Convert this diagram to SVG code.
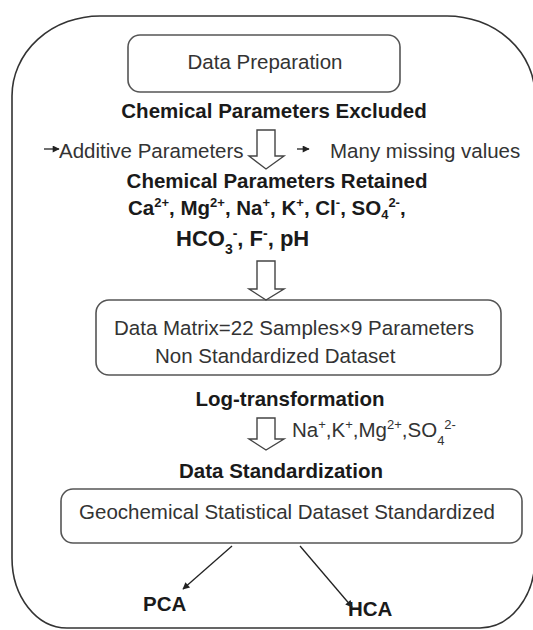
<svg xmlns="http://www.w3.org/2000/svg" width="533" height="630" viewBox="0 0 533 630">
<defs>
<marker id="ah" viewBox="0 0 10 10" refX="9" refY="5" markerWidth="9" markerHeight="7" markerUnits="userSpaceOnUse" orient="auto">
<path d="M0,0 L10,5 L0,10 z" fill="#222"/>
</marker>
<style>
.t{font-family:"Liberation Sans",Arial,sans-serif;font-size:20.5px;fill:#333}
.b{font-family:"Liberation Sans",Arial,sans-serif;font-size:20.5px;font-weight:bold;fill:#1a1a1a}
.box{fill:#fff;stroke:#555;stroke-width:1.6}
.hol{fill:#fff;stroke:#444;stroke-width:1.4;stroke-linejoin:miter}
.ln{stroke:#222;stroke-width:1.3;fill:none}
</style>
</defs>
<rect width="533" height="630" fill="#fff"/>
<path id="outer" d="M12,96 A88,80 0 0 1 100,16 L447,16 A88,80 0 0 1 535,96 L535,558 A55,70 0 0 1 480,628 L67,628 A55,70 0 0 1 12,558 Z" fill="none" stroke="#333" stroke-width="1.6"/>

<g id="data-preparation">
<rect class="box" x="128" y="35" width="272" height="57" rx="12"/>
<text class="t" x="265" y="69" text-anchor="middle">Data Preparation</text>
</g>

<g id="excluded">
<text class="b" x="274" y="118" text-anchor="middle">Chemical Parameters Excluded</text>
<text class="t" x="59" y="158">Additive Parameters</text>
<text class="t" x="330" y="158">Many missing values</text>
</g>

<g id="retained">
<text class="b" x="277" y="188" text-anchor="middle">Chemical Parameters Retained</text>
<text class="b" x="128" y="215">Ca<tspan dy="-8" font-size="13">2+</tspan><tspan dy="8">, Mg</tspan><tspan dy="-8" font-size="13">2+</tspan><tspan dy="8">, Na</tspan><tspan dy="-8" font-size="13">+</tspan><tspan dy="8">, K</tspan><tspan dy="-8" font-size="13">+</tspan><tspan dy="8">, Cl</tspan><tspan dy="-8" font-size="13">-</tspan><tspan dy="8">, SO</tspan><tspan dy="4" font-size="13">4</tspan><tspan dy="-12" font-size="13">2-</tspan><tspan dy="8">,</tspan></text>
<text class="b" x="176" y="246" style="font-size:22px">HCO<tspan dy="8" style="font-size:14px">3</tspan><tspan dy="-16" style="font-size:14px">-</tspan><tspan dy="8">, F</tspan><tspan dy="-8" style="font-size:14px">-</tspan><tspan dy="8">, pH</tspan></text>
</g>

<g id="data-matrix">
<rect class="box" x="96" y="300" width="405" height="75" rx="13"/>
<text class="t" x="114" y="335">Data Matrix=22 Samples×9 Parameters</text>
<text class="t" x="155" y="363">Non Standardized Dataset</text>
</g>

<g id="log-transformation">
<text class="b" x="290" y="406" text-anchor="middle">Log-transformation</text>
<text class="t" x="292" y="437">Na<tspan dy="-8" style="font-size:13px">+</tspan><tspan dy="8">,K</tspan><tspan dy="-8" style="font-size:13px">+</tspan><tspan dy="8">,Mg</tspan><tspan dy="-8" style="font-size:13px">2+</tspan><tspan dy="8">,SO</tspan><tspan dy="8" style="font-size:13px">4</tspan><tspan dy="-16" style="font-size:13px">2-</tspan></text>
</g>

<g id="standardized">
<text class="b" x="281" y="478" text-anchor="middle">Data Standardization</text>
<rect class="box" x="61" y="489" width="461" height="54" rx="12"/>
<text class="t" x="287" y="519" text-anchor="middle">Geochemical Statistical Dataset Standardized</text>
</g>

<g id="pca"><text class="b" x="143" y="611">PCA</text></g>
<g id="hca"><text class="b" x="348" y="616">HCA</text></g>

<g id="connectors">
<polygon class="hol" points="257,130 275,130 275,156 284,156 266,169 249,156 257,156"/>
<polygon class="hol" points="257,261 275,261 275,289 284,289 266,300 249,289 257,289"/>
<polygon class="hol" points="257,418 275,418 275,439 284,439 266,450 249,439 257,439"/>
<line class="ln" x1="44" y1="149" x2="59" y2="149" marker-end="url(#ah)"/>
<line class="ln" x1="297" y1="149" x2="309" y2="149" marker-end="url(#ah)"/>
<line class="ln" x1="232" y1="546" x2="183" y2="589" marker-end="url(#ah)"/>
<line class="ln" x1="300" y1="546" x2="352" y2="607" marker-end="url(#ah)"/>
</g>
</svg>
